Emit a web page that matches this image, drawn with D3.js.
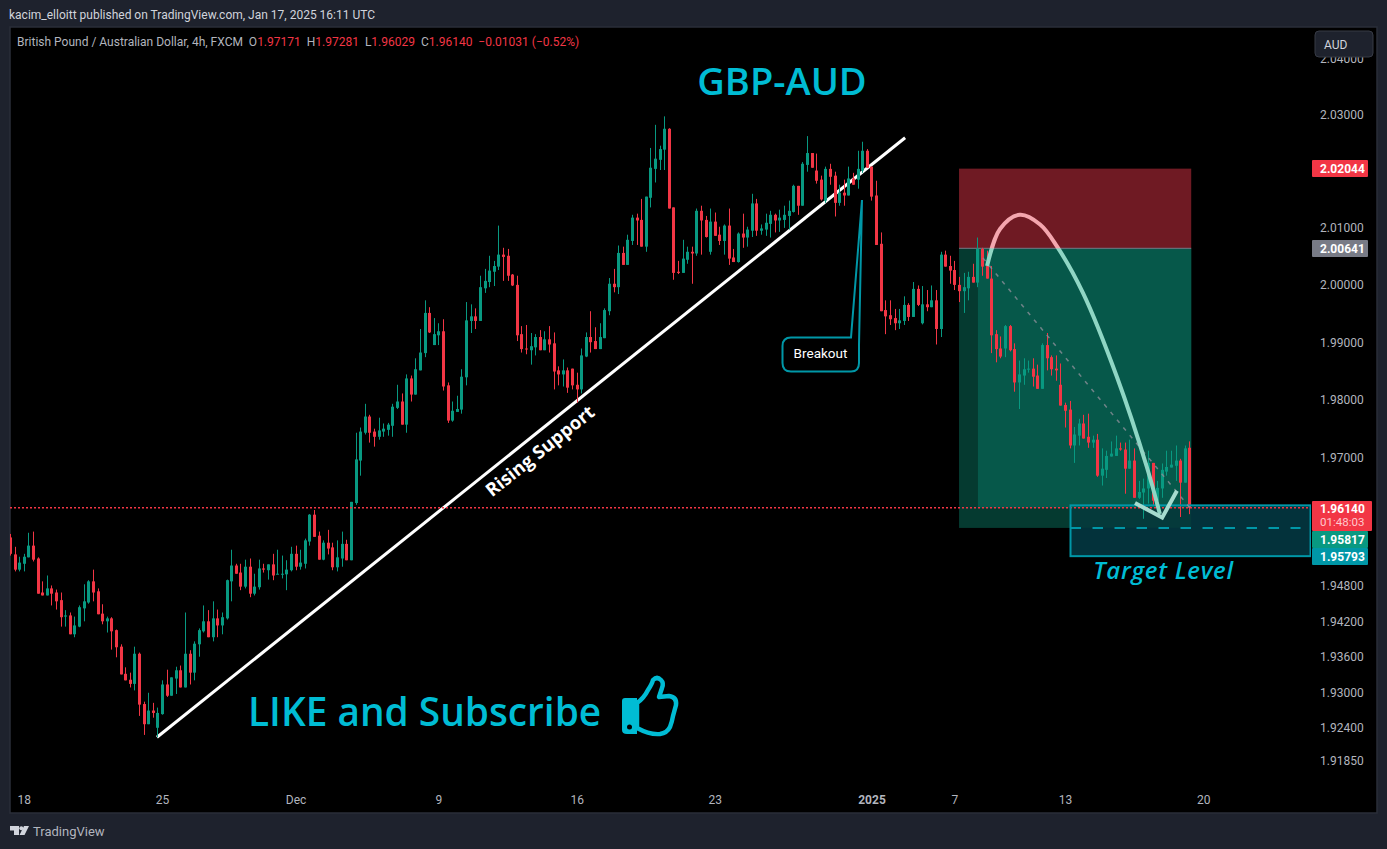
<!DOCTYPE html>
<html>
	<head>
		<meta charset="utf-8"/>
		<script type="text/javascript" src="https://cdn.jsdelivr.net/npm/d3@7/dist/d3.min.js"></script>
		<style>
			html, body { margin:0; padding:0; background:#1e222d; overflow:hidden; }
			svg { display:block; }
			text { font-family:Roboto, sans-serif; }
			.big { font-family:"Open Sans", sans-serif; font-weight:600; fill:#00bcd4; }
			.axis text { fill:#b2b5be; font-size:12px; }
			.axis path, .axis line { display:none; }
		</style>
	</head>
	<body>
		<script>
			// candles, one value per 4h bar
			var opens = [1.9563,1.9534,1.9508,1.9518,1.9529,1.9549,1.9527,1.9469,1.9464,1.9476,
				1.9469,1.9456,1.9428,1.9430,1.9398,1.9411,1.9442,1.9452,1.9488,1.9471,
				1.9433,1.9420,1.9425,1.9405,1.9377,1.9331,1.9321,1.9314,1.9365,1.9280,
				1.9246,1.9269,1.9240,1.9263,1.9313,1.9294,1.9323,1.9337,1.9308,1.9365,
				1.9333,1.9381,1.9403,1.9420,1.9393,1.9425,1.9413,1.9425,1.9488,1.9515,
				1.9503,1.9479,1.9513,1.9467,1.9478,1.9510,1.9507,1.9517,1.9500,1.9500,
				1.9500,1.9507,1.9535,1.9513,1.9518,1.9556,1.9602,1.9566,1.9525,1.9554,
				1.9546,1.9512,1.9527,1.9552,1.9524,1.9622,
				1.9695,1.9743,1.9771,1.9745,1.9736,1.9745,1.9748,1.9755,1.9786,1.9797,
				1.9757,1.9837,1.9809,1.9851,1.9881,1.9951,1.9895,1.9912,1.9919,1.9825,
				1.9764,1.9779,1.9783,1.9839,1.9937,1.9945,1.9937,1.9994,2.0005,2.0023,
				2.0032,2.0053,2.0051,2.0018,2.0000,1.9914,1.9889,1.9886,1.9891,1.9909,
				1.9886,1.9905,1.9898,1.9851,1.9844,1.9851,1.9854,1.9826,1.9818,1.9875,
				1.9909,1.9902,1.9888,1.9907,1.9954,2.0002,1.9996,2.0056,2.0035,2.0077,
				2.0118,2.0114,2.0067,2.0153,2.0204,2.0220,2.0238,2.0275,2.0136,2.0023,
				2.0021,2.0044,2.0058,2.0055,2.0130,2.0114,2.0058,2.0111,2.0088,2.0077,
				2.0104,2.0048,2.0040,2.0090,2.0083,2.0095,2.0143,2.0095,2.0097,2.0107,
				2.0123,2.0113,2.0114,2.0121,2.0128,2.0174,2.0139,2.0211,2.0232,2.0201,
				2.0185,2.0148,2.0204,2.0192,2.0144,2.0162,2.0157,2.0187,2.0185,2.0201,
				2.0236,2.0208,2.0157,2.0072,1.9956,1.9947,1.9942,1.9933,1.9937,1.9965,
				1.9944,1.9993,1.9933,1.9966,1.9961,1.9973,1.9923,2.0053,2.0033,2.0026,
				2.0000,1.9989,1.9994,2.0014,2.0004,2.0063,2.0033,2.0011,1.9914,1.9889,
				1.9889,1.9928,1.9888,1.9830,1.9842,1.9853,1.9854,1.9842,1.9819,1.9895,
				1.9874,1.9854,1.9826,1.9791,1.9783,1.9721,1.9738,1.9759,1.9736,1.9726,
				1.9731,1.9669,1.9679,1.9702,1.9703,1.9716,1.9714,1.9681,1.9695,1.9631,
				1.9640,1.9647,1.9691,1.9626,1.9647,1.9676,1.9683,1.9686,1.9695,1.9657,1.97171];
			var highs = [1.9569,1.9547,1.9530,1.9535,1.9571,1.9573,1.9529,1.9488,1.9498,1.9481,
				1.9474,1.9469,1.9439,1.9435,1.9428,1.9447,1.9483,1.9490,1.9508,1.9476,
				1.9449,1.9428,1.9427,1.9406,1.9381,1.9342,1.9333,1.9377,1.9367,1.9284,
				1.9299,1.9282,1.9274,1.9320,1.9338,1.9325,1.9343,1.9345,1.9435,1.9371,
				1.9386,1.9408,1.9447,1.9439,1.9454,1.9440,1.9435,1.9491,1.9542,1.9518,
				1.9518,1.9525,1.9527,1.9501,1.9525,1.9518,1.9517,1.9535,1.9542,1.9532,
				1.9524,1.9547,1.9549,1.9542,1.9561,1.9603,1.9610,1.9573,1.9558,1.9576,
				1.9554,1.9558,1.9573,1.9559,1.9624,1.9743,
				1.9752,1.9793,1.9774,1.9750,1.9769,1.9759,1.9760,1.9793,1.9826,1.9811,
				1.9844,1.9842,1.9872,1.9923,1.9973,1.9961,1.9942,1.9933,1.9940,1.9830,
				1.9797,1.9807,1.9853,1.9970,1.9966,1.9959,2.0016,2.0028,2.0051,2.0042,
				2.0104,2.0065,2.0063,2.0019,2.0016,1.9928,1.9930,1.9916,1.9914,1.9921,
				1.9919,1.9928,1.9917,1.9858,1.9870,1.9856,1.9854,1.9847,1.9889,1.9917,
				1.9954,1.9926,1.9933,1.9959,2.0012,2.0028,2.0069,2.0067,2.0088,2.0123,
				2.0125,2.0151,2.0155,2.0241,2.0282,2.0245,2.0297,2.0276,2.0136,2.0042,
				2.0079,2.0067,2.0067,2.0134,2.0139,2.0121,2.0134,2.0127,2.0102,2.0106,
				2.0134,2.0063,2.0092,2.0125,2.0102,2.0160,2.0151,2.0106,2.0125,2.0130,
				2.0125,2.0132,2.0139,2.0148,2.0176,2.0174,2.0216,2.0262,2.0232,2.0231,
				2.0192,2.0208,2.0213,2.0199,2.0176,2.0185,2.0208,2.0197,2.0236,2.0252,
				2.0239,2.0208,2.0183,2.0092,1.9973,1.9973,1.9958,1.9958,1.9980,1.9968,
				2.0005,1.9999,1.9998,1.9991,1.9999,1.9991,2.0058,2.0060,2.0051,2.0042,
				2.0014,2.0021,2.0023,2.0037,2.0083,2.0065,2.0060,2.0033,1.9921,1.9910,
				1.9930,1.9930,1.9898,1.9868,1.9872,1.9868,1.9872,1.9861,1.9898,1.9916,
				1.9877,1.9877,1.9863,1.9795,1.9798,1.9753,1.9767,1.9774,1.9776,1.9738,
				1.9741,1.9716,1.9712,1.9728,1.9738,1.9726,1.9726,1.9731,1.9716,1.9660,
				1.9664,1.9712,1.9691,1.9660,1.9690,1.9712,1.9712,1.9721,1.9698,1.9721,1.97281];
			var lows = [1.9532,1.9505,1.9505,1.9505,1.9529,1.9522,1.9467,1.9464,1.9464,1.9447,
				1.9440,1.9411,1.9411,1.9398,1.9393,1.9410,1.9420,1.9450,1.9454,1.9432,
				1.9415,1.9401,1.9372,1.9359,1.9330,1.9320,1.9308,1.9303,1.9260,1.9228,
				1.9246,1.9257,1.9224,1.9262,1.9292,1.9294,1.9297,1.9308,1.9308,1.9313,
				1.9320,1.9360,1.9401,1.9393,1.9386,1.9393,1.9398,1.9423,1.9454,1.9501,
				1.9473,1.9476,1.9461,1.9464,1.9474,1.9503,1.9491,1.9490,1.9500,1.9493,
				1.9473,1.9505,1.9507,1.9508,1.9510,1.9549,1.9564,1.9525,1.9524,1.9534,
				1.9507,1.9505,1.9513,1.9524,1.9524,1.9619,
				1.9669,1.9740,1.9726,1.9719,1.9731,1.9736,1.9738,1.9736,1.9784,1.9757,
				1.9743,1.9797,1.9809,1.9851,1.9874,1.9916,1.9895,1.9895,1.9816,1.9760,
				1.9762,1.9779,1.9776,1.9825,1.9916,1.9923,1.9937,1.9986,1.9996,1.9998,
				2.0026,2.0007,2.0007,1.9998,1.9902,1.9882,1.9879,1.9861,1.9877,1.9886,
				1.9886,1.9882,1.9818,1.9825,1.9823,1.9812,1.9818,1.9795,1.9811,1.9874,
				1.9882,1.9888,1.9888,1.9907,1.9947,1.9987,1.9984,2.0035,2.0035,2.0070,
				2.0070,2.0067,2.0058,2.0136,2.0180,2.0202,2.0202,2.0134,2.0009,2.0019,
				2.0021,2.0037,2.0002,2.0051,2.0053,2.0083,2.0053,2.0086,2.0070,2.0053,
				2.0035,2.0040,2.0039,2.0065,2.0067,2.0084,2.0086,2.0088,2.0086,2.0083,
				2.0092,2.0093,2.0100,2.0097,2.0127,2.0123,2.0139,2.0199,2.0206,2.0178,
				2.0148,2.0144,2.0176,2.0120,2.0139,2.0139,2.0157,2.0176,2.0169,2.0197,
				2.0206,2.0148,2.0070,1.9954,1.9914,1.9930,1.9921,1.9923,1.9930,1.9937,
				1.9944,1.9963,1.9931,1.9954,1.9961,1.9896,1.9909,2.0032,2.0002,1.9991,
				1.9970,1.9951,1.9973,2.0004,1.9996,2.0016,2.0011,1.9881,1.9865,1.9872,
				1.9874,1.9884,1.9814,1.9784,1.9826,1.9847,1.9823,1.9819,1.9819,1.9851,
				1.9842,1.9833,1.9790,1.9752,1.9716,1.9691,1.9721,1.9733,1.9717,1.9717,
				1.9667,1.9652,1.9665,1.9702,1.9703,1.9712,1.9638,1.9681,1.9631,1.9629,
				1.9595,1.9621,1.9617,1.9614,1.9631,1.9669,1.9683,1.9660,1.9598,1.9657,1.96029];
			var closes = [1.9535,1.9508,1.9520,1.9530,1.9549,1.9525,1.9467,1.9464,1.9476,1.9467,
				1.9454,1.9427,1.9430,1.9398,1.9413,1.9444,1.9454,1.9488,1.9469,1.9432,
				1.9420,1.9425,1.9403,1.9376,1.9330,1.9320,1.9314,1.9365,1.9279,1.9246,
				1.9269,1.9265,1.9265,1.9313,1.9294,1.9325,1.9337,1.9308,1.9365,1.9333,
				1.9382,1.9405,1.9420,1.9393,1.9425,1.9413,1.9427,1.9490,1.9515,1.9501,
				1.9479,1.9513,1.9467,1.9479,1.9510,1.9508,1.9517,1.9498,1.9501,1.9501,
				1.9508,1.9535,1.9513,1.9520,1.9558,1.9602,1.9564,1.9525,1.9554,1.9544,
				1.9512,1.9529,1.9552,1.9524,1.9624,1.9697,
				1.9745,1.9771,1.9743,1.9736,1.9747,1.9750,1.9757,1.9788,1.9797,1.9757,
				1.9837,1.9809,1.9853,1.9882,1.9951,1.9917,1.9914,1.9919,1.9823,1.9764,
				1.9781,1.9784,1.9840,1.9938,1.9945,1.9937,1.9996,2.0007,2.0025,2.0033,
				2.0053,2.0049,2.0016,1.9999,1.9912,1.9888,1.9888,1.9893,1.9909,1.9886,
				1.9905,1.9896,1.9849,1.9844,1.9851,1.9821,1.9825,1.9818,1.9877,1.9909,
				1.9900,1.9888,1.9909,1.9956,2.0002,1.9996,2.0056,2.0035,2.0079,2.0118,
				2.0113,2.0067,2.0155,2.0206,2.0222,2.0239,2.0275,2.0134,2.0021,2.0021,
				2.0046,2.0058,2.0055,2.0130,2.0113,2.0084,2.0111,2.0086,2.0077,2.0104,
				2.0046,2.0040,2.0090,2.0083,2.0097,2.0143,2.0095,2.0099,2.0109,2.0123,
				2.0113,2.0118,2.0123,2.0130,2.0174,2.0139,2.0213,2.0232,2.0206,2.0183,
				2.0150,2.0204,2.0190,2.0144,2.0162,2.0157,2.0187,2.0176,2.0204,2.0236,
				2.0206,2.0155,2.0070,1.9954,1.9945,1.9940,1.9933,1.9938,1.9965,1.9944,
				1.9993,1.9965,1.9966,1.9961,1.9973,1.9923,2.0053,2.0032,2.0025,2.0000,
				1.9989,1.9996,2.0014,2.0004,2.0063,2.0032,2.0011,1.9912,1.9888,1.9875,
				1.9928,1.9886,1.9830,1.9844,1.9853,1.9854,1.9840,1.9819,1.9895,1.9872,
				1.9853,1.9851,1.9790,1.9781,1.9721,1.9740,1.9759,1.9733,1.9726,1.9731,
				1.9669,1.9681,1.9703,1.9707,1.9716,1.9714,1.9681,1.9695,1.9631,1.9641,
				1.9647,1.9691,1.9626,1.9648,1.9679,1.9684,1.9688,1.9695,1.9657,1.9716,1.96140];

			// axis ticks
			var price_ticks = [2.04,2.03,2.01,2.00,1.99,1.98,1.97,1.948,1.942,1.936,1.93,1.924,1.9185];
			var time_bars = [3,33,62,93,123,153,187,205,229,259];
			var time_labels = ["18","25","Dec","9","16","23","2025","7","13","20"];
			var time_bold = ["2025"];

			// drawing tools, as [bar, price]
			var support_line = [[31.9,1.9224],[194.3,2.0259]];
			var move_path = [[212.1,2.0033],[214.9,2.0098],[219.2,2.0123],[223.6,2.0106],[227.3,2.0067],[232.9,1.9986],[240.3,1.9839],[246.8,1.9683],[249.6,1.9603]];
			var move_head = [[244.2,1.9622],[250.1,1.9597],[253.3,1.9643]];
			var path_dash = [[211.2,2.0047],[256.1,1.9614]];
			var stop_price = 2.02044, entry_price = 2.00641, target_mid = 1.95793, last_price = 1.96140;
			var tool_bars = [206,210.1,256.4];
			var target_bars = [230.2,282.3];
			var target_prices = [1.9618,1.9531];

			var width = 1387, height = 849;
			var black = "#000000", up = "#089981", down = "#f23645", cyan = "#00bcd4", teal = "#0097a7";

			var x = d3.scaleLinear().domain([0,260]).range([10,1207.8]);
			var y = d3.scaleLog().domain([1.9185,2.04]).range([760.5,58.5]);

			var svg = d3.select("body").append("svg")
				.attr("width", width)
				.attr("height", height);
			var defs = svg.append("defs");
			defs.append("clipPath").attr("id","plot").append("rect")
				.attr("x",10).attr("y",27).attr("width",1301).attr("height",786);
			var arc_color = defs.append("linearGradient").attr("id","arc")
				.attr("gradientUnits","userSpaceOnUse")
				.attr("x1",0).attr("x2",0).attr("y1",y(entry_price)-0.5).attr("y2",y(entry_price)+0.5);
			arc_color.append("stop").attr("offset",0).attr("stop-color","#f4a6ae");
			arc_color.append("stop").attr("offset",1).attr("stop-color","#8fd6c4");

			svg.append("rect").attr("width",width).attr("height",height).attr("fill","#1e222d");
			svg.append("rect").attr("x",10).attr("y",27).attr("width",1367).attr("height",786)
				.attr("fill",black).attr("stroke","#2a2e39").attr("stroke-width",1.5);

			svg.append("text").attr("x",9).attr("y",19).attr("fill","#d1d4dc").attr("font-size",12)
				.text("kacim_elloitt published on TradingView.com, Jan 17, 2025 16:11 UTC");

			var plot = svg.append("g").attr("clip-path","url(#plot)");

			// position tool
			plot.append("rect").attr("x",x(tool_bars[0])).attr("width",x(tool_bars[2])-x(tool_bars[0]))
				.attr("y",y(stop_price)).attr("height",y(entry_price)-y(stop_price)).attr("fill","#6f1a23");
			plot.append("rect").attr("x",x(tool_bars[0])).attr("width",x(tool_bars[2])-x(tool_bars[0]))
				.attr("y",y(entry_price)).attr("height",y(target_mid)-y(entry_price)).attr("fill","#053a30");
			plot.append("rect").attr("x",x(tool_bars[1])).attr("width",x(tool_bars[2])-x(tool_bars[1]))
				.attr("y",y(entry_price)).attr("height",y(last_price)-y(entry_price)).attr("fill","#06584a");
			plot.append("line").attr("x1",x(tool_bars[0])).attr("x2",x(tool_bars[2]))
				.attr("y1",y(entry_price)).attr("y2",y(entry_price)).attr("stroke","#787b86");

			var line = d3.line().x(function(d){return x(d[0])}).y(function(d){return y(d[1])});

			plot.append("path").attr("d",line(support_line)).attr("stroke","#fff").attr("stroke-width",3).attr("fill","none");

			// candles
			var bars = d3.range(opens.length);
			plot.selectAll(".wick").data(bars).enter().append("rect")
				.attr("x",function(i){return Math.round(x(i))})
				.attr("width",1)
				.attr("y",function(i){return y(highs[i])})
				.attr("height",function(i){return y(lows[i])-y(highs[i])})
				.attr("fill",function(i){return closes[i]>=opens[i]?up:down});
			plot.selectAll(".body").data(bars).enter().append("rect")
				.attr("x",function(i){return Math.round(x(i))-1})
				.attr("width",3)
				.attr("y",function(i){return y(Math.max(opens[i],closes[i]))})
				.attr("height",function(i){return Math.max(1,Math.abs(y(opens[i])-y(closes[i])))})
				.attr("fill",function(i){return closes[i]>=opens[i]?up:down});

			// last price line, thick enough that the dots stay red in the photo
			plot.append("line").attr("x1",10).attr("x2",1311).attr("y1",y(last_price)).attr("y2",y(last_price))
				.attr("stroke",down).attr("stroke-width",1.6).attr("stroke-dasharray","2 2");

			// target box
			plot.append("rect").attr("x",x(target_bars[0])).attr("width",x(target_bars[1])-x(target_bars[0]))
				.attr("y",y(target_prices[0])).attr("height",y(target_prices[1])-y(target_prices[0]))
				.attr("fill","#03323b").style("mix-blend-mode","lighten");
			plot.append("rect").attr("x",x(target_bars[0])).attr("width",x(target_bars[1])-x(target_bars[0]))
				.attr("y",y(target_prices[0])).attr("height",y(target_prices[1])-y(target_prices[0]))
				.attr("fill","none").attr("stroke",teal).attr("stroke-width",2);
			plot.append("line").attr("x1",x(target_bars[0])).attr("x2",x(target_bars[1])-10)
				.attr("y1",y(target_mid)).attr("y2",y(target_mid))
				.attr("stroke",teal).attr("stroke-width",2).attr("stroke-dasharray","10.5 11.5");

			// forecast path
			plot.append("path").attr("d",line(path_dash)).attr("fill","none")
				.attr("stroke","#8a8d97").attr("stroke-opacity",0.8).attr("stroke-width",1.5).attr("stroke-dasharray","4 6");
			plot.append("path").attr("d",line.curve(d3.curveCatmullRom)(move_path)).attr("fill","none")
				.attr("stroke","url(#arc)").attr("stroke-width",4);
			plot.append("path").attr("d",line.curve(d3.curveLinear)(move_head)).attr("fill","none")
				.attr("stroke","#a5dccf").attr("stroke-width",4);

			// text on the chart
			svg.append("text").attr("class","big").attr("x",782).attr("y",95).attr("text-anchor","middle")
				.attr("font-size",38).text("GBP-AUD");
			svg.append("text").attr("class","big").attr("x",248).attr("y",726).attr("font-size",38.8).text("LIKE and Subscribe");
			svg.append("text").attr("x",1163.5).attr("y",579).attr("text-anchor","middle").attr("fill",cyan)
				.attr("font-size",24).attr("font-style","italic").attr("font-weight",600).attr("letter-spacing",0.7)
				.style("font-family","'Open Sans'").text("Target Level");
			svg.append("text").attr("transform","translate(544,456) rotate(-38.7)").attr("text-anchor","middle")
				.attr("fill","#fff").attr("font-size",18.4).style("font-family","'Open Sans'").attr("font-weight",700).text("Rising Support");

			// breakout callout
			svg.append("path").attr("d","M791 337.5H851L862 200L859 345V363Q859 371.5 851 371.5H791Q782.5 371.5 782.5 363V346Q782.5 337.5 791 337.5Z")
				.attr("fill",black).attr("stroke",teal).attr("stroke-width",2);
			svg.append("text").attr("x",820.5).attr("y",358).attr("text-anchor","middle").attr("fill","#fff")
				.attr("font-size",13.5).text("Breakout");

			// thumb
			svg.append("path").attr("d","M637 703Q644 698 648 690Q652 684 653 680Q657 676 661 680Q664 683 662 688L659 697L669 696Q677 697 676 705L673 716Q672 722 670 727Q667 733 660 734Q650 735 637 728Z")
				.attr("fill","none").attr("stroke",cyan).attr("stroke-width",4.5).attr("stroke-linejoin","round");
			svg.append("path").attr("d","M625 698H637V734H627Q622 734 622 730V701Q622 698 625 698Z").attr("fill",cyan);
			svg.append("circle").attr("cx",629.5).attr("cy",727).attr("r",2.5).attr("fill",black);

			// axes
			svg.append("g").attr("class","axis").attr("transform","translate(1320,0)")
				.call(d3.axisRight(y).tickValues(price_ticks).tickSize(0).tickPadding(0).tickFormat(d3.format(".5f")));
			svg.append("g").attr("class","axis").attr("transform","translate(0,789)")
				.call(d3.axisBottom(x).tickValues(time_bars).tickSize(0).tickPadding(6).tickFormat(function(d,i){return time_labels[i]}))
				.selectAll("text").attr("font-weight",function(d,i){return time_bold.indexOf(time_labels[i])>=0?700:400});

			// price tags
			var tag_labels = ["2.02044","2.00641","1.95817","1.95793"];
			var tag_centers = [168.5,248.5,539.5,556.5];
			var tag_colors = [down,"#787b86",up,teal];
			svg.selectAll(".tag").data(tag_labels).enter().append("rect")
				.attr("x",1312).attr("width",56).attr("y",function(d,i){return tag_centers[i]-8.5}).attr("height",17)
				.attr("rx",1).attr("fill",function(d,i){return tag_colors[i]});
			svg.selectAll(".tagtext").data(tag_labels).enter().append("text")
				.attr("x",1320).attr("y",function(d,i){return tag_centers[i]+4.5})
				.attr("fill","#fff").attr("font-size",12).attr("font-weight",700)
				.text(function(d){return d});
			svg.append("rect").attr("x",1312).attr("y",501).attr("width",60).attr("height",30).attr("rx",1).attr("fill",down);
			svg.append("text").attr("x",1320).attr("y",513).attr("fill","#fff").attr("font-size",12).attr("font-weight",700).text("1.96140");
			svg.append("text").attr("x",1320).attr("y",526).attr("fill","#ffc9ce").attr("font-size",11.5).text("01:48:03");

			// symbol legend
			var legend_parts = [["British Pound / Australian Dollar, 4h, FXCM  O","#b2b5be"],["1.97171",down],["  H","#b2b5be"],["1.97281",down],["  L","#b2b5be"],["1.96029",down],["  C","#b2b5be"],["1.96140",down],["  \u22120.01031 (\u22120.52%)",down]];
			svg.append("text").attr("x",17).attr("y",46).attr("font-size",12).attr("xml:space","preserve").style("white-space","pre")
				.selectAll("tspan").data(legend_parts).enter().append("tspan")
				.attr("fill",function(d){return d[1]}).text(function(d){return d[0]});

			// currency button
			svg.append("rect").attr("x",1315).attr("y",31).attr("width",58).attr("height",26).attr("rx",4)
				.attr("fill","#1e222d").attr("stroke","#363a45");
			svg.append("text").attr("x",1324).attr("y",49).attr("fill","#d1d4dc").attr("font-size",12).text("AUD");

			// footer logo
			svg.append("path").attr("d","M10 826H19V835H14V830.5H10ZM29 826L24.5 835H19.5L24 826Z").attr("fill","#d1d4dc");
			svg.append("circle").attr("cx",21.3).attr("cy",828.2).attr("r",2).attr("fill","#d1d4dc");
			svg.append("text").attr("x",33).attr("y",836).attr("fill","#b2b5be").attr("font-size",13).text("TradingView");
		</script>
	</body>
</html>
